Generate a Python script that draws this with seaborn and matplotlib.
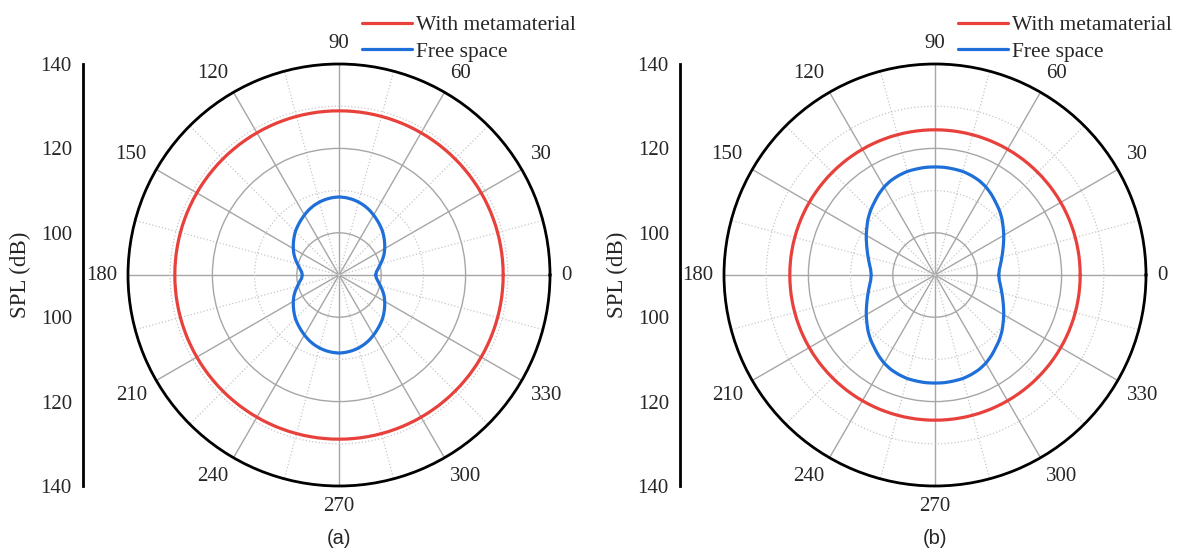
import numpy as np
import pandas as pd
import matplotlib
matplotlib.use("Agg")
import matplotlib.pyplot as plt
import seaborn as sns
from matplotlib.ticker import FixedLocator

sns.set_style("white")
plt.rcParams['font.family'] = ['Liberation Serif', 'DejaVu Serif']

# polar angles (deg): 10 deg steps for the metamaterial circle, 5 deg steps for free space
angle_meta = [0, 10, 20, 30, 40, 50, 60, 70, 80, 90,
              100, 110, 120, 130, 140, 150, 160, 170, 180,
              190, 200, 210, 220, 230, 240, 250, 260, 270,
              280, 290, 300, 310, 320, 330, 340, 350, 360]
angle_free = [0, 5, 10, 15, 20, 25, 30, 35, 40, 45, 50, 55, 60, 65, 70, 75, 80, 85, 90,
              95, 100, 105, 110, 115, 120, 125, 130, 135, 140, 145, 150, 155, 160, 165, 170, 175, 180,
              185, 190, 195, 200, 205, 210, 215, 220, 225, 230, 235, 240, 245, 250, 255, 260, 265, 270,
              275, 280, 285, 290, 295, 300, 305, 310, 315, 320, 325, 330, 335, 340, 345, 350, 355, 360]

# (a) SPL in dB
meta_a = [128.9, 128.9, 128.9, 128.9, 128.9, 128.9, 128.9, 128.9, 128.9, 128.9,
          128.9, 128.9, 128.9, 128.9, 128.9, 128.9, 128.9, 128.9, 128.9,
          128.9, 128.9, 128.9, 128.9, 128.9, 128.9, 128.9, 128.9, 128.9,
          128.9, 128.9, 128.9, 128.9, 128.9, 128.9, 128.9, 128.9, 128.9]
free_a = [98.7, 98.9, 99.5, 100.2, 101.0, 101.8, 102.5, 103.2, 103.9, 104.6,
          105.2, 105.8, 106.4, 107.0, 107.5, 107.9, 108.2, 108.4, 108.5,
          108.4, 108.2, 107.9, 107.5, 107.0, 106.4, 105.8, 105.2, 104.6,
          103.9, 103.2, 102.5, 101.8, 101.0, 100.2, 99.5, 98.9, 98.7,
          98.9, 99.5, 100.2, 101.0, 101.8, 102.5, 103.2, 103.9, 104.6,
          105.2, 105.8, 106.4, 107.0, 107.5, 107.9, 108.2, 108.4, 108.5,
          108.4, 108.2, 107.9, 107.5, 107.0, 106.4, 105.8, 105.2, 104.6,
          103.9, 103.2, 102.5, 101.8, 101.0, 100.2, 99.5, 98.9, 98.7]

# (b) SPL in dB
meta_b = [124.4, 124.4, 124.4, 124.4, 124.4, 124.4, 124.4, 124.4, 124.4, 124.4,
          124.4, 124.4, 124.4, 124.4, 124.4, 124.4, 124.4, 124.4, 124.4,
          124.4, 124.4, 124.4, 124.4, 124.4, 124.4, 124.4, 124.4, 124.4,
          124.4, 124.4, 124.4, 124.4, 124.4, 124.4, 124.4, 124.4, 124.4]
free_b = [105.1, 105.3, 105.8, 106.4, 107.1, 107.9, 108.8, 109.7, 110.7, 111.6,
          112.4, 113.3, 114.1, 114.7, 115.1, 115.4, 115.5, 115.6, 115.6,
          115.6, 115.5, 115.4, 115.1, 114.7, 114.1, 113.3, 112.4, 111.6,
          110.7, 109.7, 108.8, 107.9, 107.1, 106.4, 105.8, 105.3, 105.1,
          105.3, 105.8, 106.4, 107.1, 107.9, 108.8, 109.7, 110.7, 111.6,
          112.4, 113.3, 114.1, 114.7, 115.1, 115.4, 115.5, 115.6, 115.6,
          115.6, 115.5, 115.4, 115.1, 114.7, 114.1, 113.3, 112.4, 111.6,
          110.7, 109.7, 108.8, 107.9, 107.1, 106.4, 105.8, 105.3, 105.1]

theta_ticks = [0, 30, 60, 90, 120, 150, 180, 210, 240, 270, 300, 330]
theta_labels = ['0', '30', '60', '90', '120', '150', '180', '210', '240', '270', '300', '330']
spl_ticks = [-50, -30, -10, 10, 30, 50]
spl_labels = ['140', '120', '100', '100', '120', '140']

red = '#e8413c'
blue = '#1f6fd8'

W, H = 1180, 554
fig = plt.figure(figsize=(W / 100, H / 100), dpi=100)


def panel(cx, cy, axis_x, meta, free, tag):
    R = 211
    ax = fig.add_axes([(cx - R) / W, (H - cy - R) / H, 2 * R / W, 2 * R / H], projection='polar')
    df_meta = pd.DataFrame({'theta': np.deg2rad(angle_meta), 'spl': meta})
    df_free = pd.DataFrame({'theta': np.deg2rad(angle_free), 'spl': free})
    sns.lineplot(data=df_meta, x='theta', y='spl', ax=ax, color=red, lw=2.3, sort=False,
                 estimator=None, label='With metamaterial')
    sns.lineplot(data=df_free, x='theta', y='spl', ax=ax, color=blue, lw=2.3, sort=False,
                 estimator=None, label='Free space')
    # let the polar transform draw curved segments between the points
    for ln in ax.lines:
        ln.get_path()._interpolation_steps = 20
    ax.set_xlabel('')
    ax.set_ylabel('')
    ax.set_ylim(90, 140)
    ax.set_xticks(np.deg2rad(theta_ticks))
    ax.set_xticklabels([])
    ax.xaxis.set_minor_locator(FixedLocator(np.deg2rad(np.arange(15, 360, 30))))
    ax.set_yticks([100, 120])
    ax.set_yticklabels([])
    ax.yaxis.set_minor_locator(FixedLocator([110, 130]))
    ax.grid(which='major', color='#a6a6a6', lw=1.0, ls='-')
    ax.grid(which='minor', color='#c8c8c8', lw=0.9, ls=':')
    ax.tick_params(axis='x', which='major', direction='in', length=6, width=1.5, color='black')
    ax.tick_params(axis='x', which='minor', direction='in', length=5, width=1.2, color='black')
    ax.tick_params(axis='y', which='both', length=0)
    ax.spines['polar'].set_linewidth(2)
    ax.spines['polar'].set_color('black')

    # angle labels just outside the rim
    for t, lab in zip(theta_ticks, theta_labels):
        c, s = np.cos(np.deg2rad(t)), np.sin(np.deg2rad(t))
        ha = 'left' if c > 0.1 else ('right' if c < -0.1 else 'center')
        va = 'bottom' if s > 0.1 else ('top' if s < -0.1 else 'center')
        ax.text(np.deg2rad(t), 142.6, lab, ha=ha, va=va, fontsize=15, clip_on=False)

    ax.legend(loc='upper left', bbox_to_anchor=((cx + 23) / W, 1 - 15 / H),
              bbox_transform=fig.transFigure, frameon=False, fontsize=15.5,
              handlelength=2.3, handletextpad=0.2, labelspacing=0.32,
              borderpad=0, borderaxespad=0)

    # mirrored SPL axis on the left
    axl = fig.add_axes([axis_x / W, (H - cy - R) / H, 0.001, 2 * R / H])
    axl.set_ylim(-50, 50)
    axl.set_xticks([])
    axl.set_yticks(spl_ticks)
    axl.set_yticklabels(spl_labels, fontsize=15)
    axl.yaxis.set_minor_locator(FixedLocator([-40, -20, 0, 20, 40]))
    axl.tick_params(axis='y', which='major', direction='out', length=6, width=1.5, pad=2)
    axl.tick_params(axis='y', which='minor', direction='out', length=3.5, width=1.2)
    for s in ['top', 'right', 'bottom']:
        axl.spines[s].set_visible(False)
    axl.spines['left'].set_linewidth(2)
    axl.spines['left'].set_color('black')
    axl.patch.set_visible(False)

    fig.text((axis_x - 63) / W, 1 - cy / H, 'SPL (dB)', rotation=90, ha='center', va='center', fontsize=16.5)
    fig.text(cx / W, 1 - 538 / H, tag, ha='center', va='center', fontsize=14.5,
             family=['Liberation Sans', 'DejaVu Sans'])


panel(339, 275, 83, meta_a, free_a, '(a)')
panel(935, 275, 680, meta_b, free_b, '(b)')

fig.savefig('out.png', dpi=100)
